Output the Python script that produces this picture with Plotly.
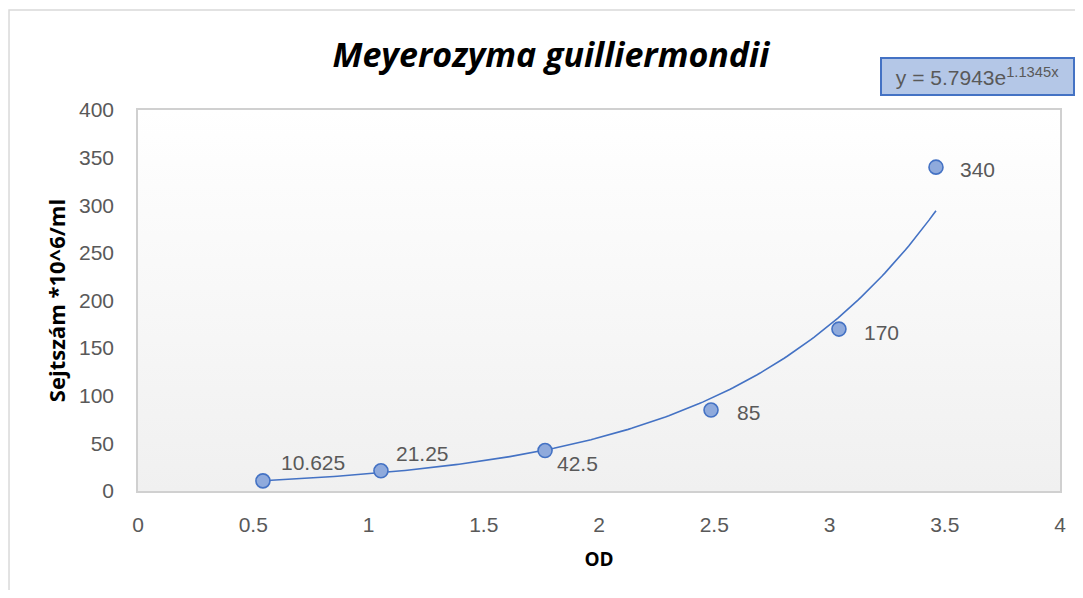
import numpy as np
import plotly.graph_objects as go

# Data
od = [0.542, 1.054, 1.766, 2.486, 3.041, 3.462]
cells = [10.625, 21.25, 42.5, 85, 170, 340]
labels = ["10.625", "21.25", "42.5", "85", "170", "340"]
fit_a = 5.7943
fit_b = 1.1345
x_ticks = [0, 0.5, 1, 1.5, 2, 2.5, 3, 3.5, 4]
x_tick_text = ["0", "0.5", "1", "1.5", "2", "2.5", "3", "3.5", "4"]
y_ticks = [0, 50, 100, 150, 200, 250, 300, 350, 400]

# label offsets (pixels) relative to the marker
label_dx = [16, 13, 10, 24, 23, 22]
label_dy = [18, 17, -13, -2, -3, -2]

FONT = "Liberation Sans, Arial, sans-serif"
GREY = "#595959"

tx = np.linspace(min(od), max(od), 200)
ty = fit_a * np.exp(fit_b * tx)

fig = go.Figure()

# plot-area gradient background
fig.add_trace(go.Scatter(
    x=[0, 4, 4, 0, 0], y=[0, 0, 400, 400, 0], mode="none", fill="toself",
    fillgradient=dict(type="vertical", colorscale=[[0, "#f0f0f0"], [1, "#ffffff"]]),
    hoverinfo="skip", showlegend=False))

fig.add_trace(go.Scatter(x=tx, y=ty, mode="lines",
                         line=dict(color="#4472c4", width=1.6), showlegend=False))

fig.add_trace(go.Scatter(
    x=od, y=cells, mode="markers",
    marker=dict(size=14, color="#8faadc", line=dict(color="#4472c4", width=1.6)),
    showlegend=False, cliponaxis=False))

annotations = []
for x, y, t, dx, dy in zip(od, cells, labels, label_dx, label_dy):
    annotations.append(dict(x=x, y=y, xref="x", yref="y", text=t, showarrow=False,
                            xanchor="left", yanchor="middle", xshift=dx, yshift=dy,
                            font=dict(family=FONT, size=21, color=GREY)))

annotations.append(dict(
    text="y = 5.7943e<sup>1.1345x</sup>", xref="paper", yref="paper",
    x=0.9105, y=1.088, xanchor="center", yanchor="middle", showarrow=False,
    width=183, height=27, align="center",
    font=dict(family=FONT, size=21, color=GREY),
    bgcolor="#b4c7e7", bordercolor="#4472c4", borderwidth=2, borderpad=4))

fig.update_layout(
    width=1075, height=582,
    margin=dict(l=130, r=23, t=102, b=99),
    paper_bgcolor="white", plot_bgcolor="white",
    title=dict(text="<b><i>Meyerozyma guilliermondii</i></b>", x=0.505, xanchor="center",
               y=0.919, yanchor="middle",
               font=dict(family="Open Sans, Liberation Sans, sans-serif", size=34, color="black")),
    xaxis=dict(range=[0, 4], tickvals=x_ticks, ticktext=x_tick_text,
               showgrid=True, gridcolor="#d9d9d9", gridwidth=1.5,
               showline=True, linecolor="#d0d0d0", linewidth=1.5, mirror=True,
               zeroline=False, ticks="outside", ticklen=14, tickcolor="rgba(0,0,0,0)",
               tickfont=dict(family=FONT, size=21, color=GREY),
               title=dict(text="<b>OD</b>", standoff=18,
                          font=dict(family="Open Sans, Liberation Sans, sans-serif", size=19, color="black"))),
    yaxis=dict(range=[0, 400], tickvals=y_ticks,
               showgrid=True, gridcolor="#d9d9d9", gridwidth=1.5,
               showline=True, linecolor="#d0d0d0", linewidth=1.5, mirror=True,
               zeroline=False, ticks="outside", ticklen=18, tickcolor="rgba(0,0,0,0)",
               tickfont=dict(family=FONT, size=21, color=GREY),
               title=dict(text="<b>Sejtszám *10^6/ml</b>", standoff=7,
                          font=dict(family="Open Sans, Liberation Sans, sans-serif", size=22, color="black"))),
    shapes=[
        dict(type="rect", xref="paper", yref="paper", x0=-0.1399, x1=1.2, y0=-0.5, y1=1.2625,
             line=dict(color="#d9d9d9", width=1.5), fillcolor="rgba(0,0,0,0)", layer="below"),
    ],
    annotations=annotations,
)

fig.write_html("out.html")
